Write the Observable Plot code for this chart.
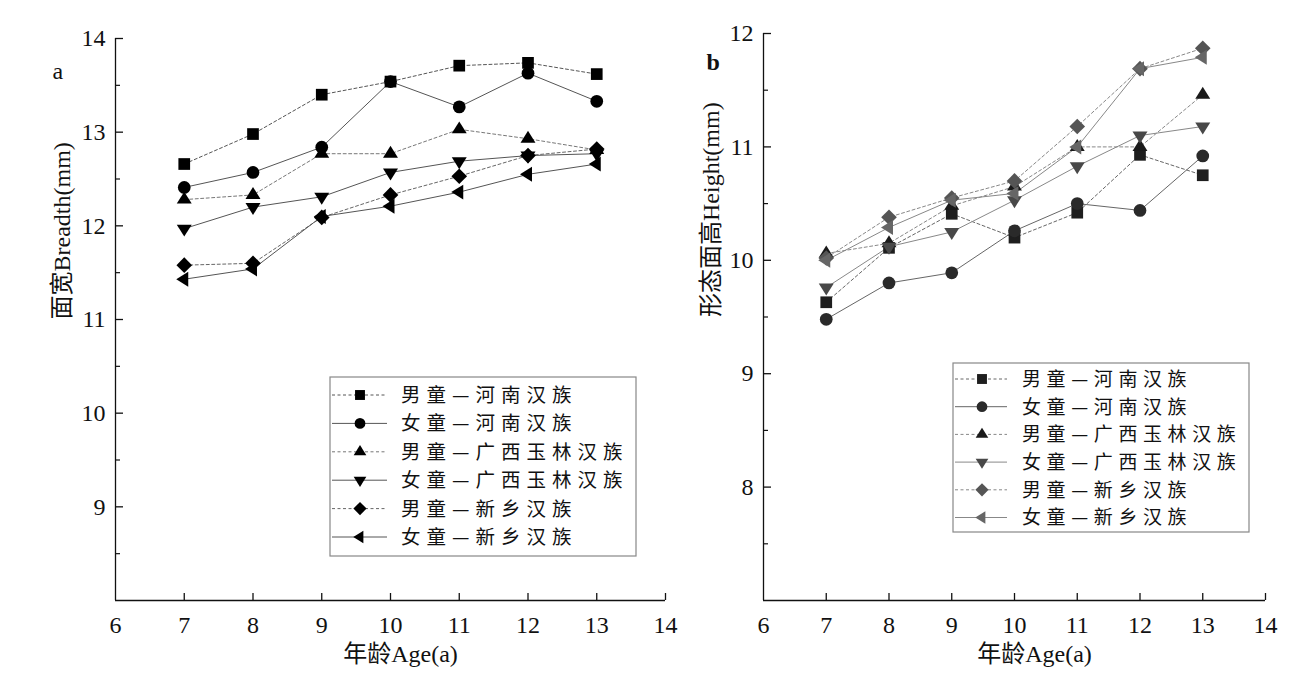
<!DOCTYPE html>
<html>
<head>
<meta charset="utf-8">
<script src="https://cdn.jsdelivr.net/npm/d3@7"></script>
<script src="https://cdn.jsdelivr.net/npm/@observablehq/plot@0.6"></script>
<style>
  html, body { margin: 0; padding: 0; background: #fff; }
  #wrap { position: relative; width: 1300px; height: 688px; overflow: hidden; }
  #wrap > svg, #wrap > div { position: absolute; top: 0; }
</style>
</head>
<body>
<div id="wrap"></div>
<script>
// ---------- data ----------
const ages = [7, 8, 9, 10, 11, 12, 13];
const seriesNames = ["男童—河南汉族", "女童—河南汉族", "男童—广西玉林汉族", "女童—广西玉林汉族", "男童—新乡汉族", "女童—新乡汉族"];
const xTicks = [6, 7, 8, 9, 10, 11, 12, 13, 14];

// panel a: 面宽 Breadth (mm)
const breadthBoyHenan     = [12.66, 12.98, 13.40, 13.54, 13.71, 13.74, 13.62];
const breadthGirlHenan    = [12.41, 12.57, 12.84, 13.54, 13.27, 13.63, 13.33];
const breadthBoyGuangxi   = [12.28, 12.33, 12.77, 12.77, 13.03, 12.93, 12.81];
const breadthGirlGuangxi  = [11.97, 12.20, 12.31, 12.57, 12.69, 12.75, 12.77];
const breadthBoyXinxiang  = [11.58, 11.60, 12.09, 12.33, 12.53, 12.75, 12.82];
const breadthGirlXinxiang = [11.43, 11.54, 12.10, 12.21, 12.36, 12.55, 12.66];
const breadthYTicks = [9, 10, 11, 12, 13, 14];

// panel b: 形态面高 Height (mm)
const heightBoyHenan     = [9.63, 10.11, 10.41, 10.20, 10.42, 10.93, 10.75];
const heightGirlHenan    = [9.48, 9.80, 9.89, 10.26, 10.50, 10.44, 10.92];
const heightBoyGuangxi   = [10.06, 10.15, 10.48, 10.65, 11.00, 11.00, 11.46];
const heightGirlGuangxi  = [9.76, 10.12, 10.25, 10.53, 10.83, 11.10, 11.18];
const heightBoyXinxiang  = [10.02, 10.38, 10.55, 10.70, 11.18, 11.69, 11.87];
const heightGirlXinxiang = [10.00, 10.29, 10.53, 10.59, 11.00, 11.69, 11.79];
const heightYTicks = [8, 9, 10, 11, 12];

// ---------- symbols ----------
function sym(kind) {
  return {
    draw(ctx, size) {
      const r = Math.sqrt(size / Math.PI);
      if (kind === "square") {
        const a = r * 0.9; ctx.rect(-a, -a, 2 * a, 2 * a);
      } else if (kind === "circle") {
        const c = r * 0.98; ctx.moveTo(c, 0); ctx.arc(0, 0, c, 0, 2 * Math.PI);
      } else if (kind === "diamond") {
        const d = r * 1.2; ctx.moveTo(0, -d); ctx.lineTo(d, 0); ctx.lineTo(0, d); ctx.lineTo(-d, 0); ctx.closePath();
      } else {
        const w = r * 1.15, h = w * 1.6;
        let pts = [[0, -h * 2 / 3], [w, h / 3], [-w, h / 3]];
        if (kind === "down") pts = pts.map(([x, y]) => [x, -y]);
        if (kind === "left") pts = pts.map(([x, y]) => [y, x]);
        ctx.moveTo(pts[0][0], pts[0][1]); ctx.lineTo(pts[1][0], pts[1][1]); ctx.lineTo(pts[2][0], pts[2][1]); ctx.closePath();
      }
    }
  };
}
const symbolKinds = ["square", "circle", "up", "down", "diamond", "left"];
const dashed = [true, false, true, false, true, false];

const FONT = '"Liberation Serif", "Noto Sans CJK SC", serif';
const wrap = document.getElementById("wrap");

function panel(cfg) {
  const {values, yDomain, yTicks, left, width, mL, mR, mT, mB, fills, lineColors, yTitle, yTitleDx, xTitleDx, letter, letterDx, letterDy, letterWeight} = cfg;
  const H = 688;
  const frameW = width - mL - mR, frameH = H - mT - mB;
  const minor = d3.range(yDomain[0] + 0.5, yDomain[1], 1);
  const marks = [];
  values.forEach((vals, i) => {
    const data = ages.map((a, j) => ({age: a, v: vals[j]}));
    marks.push(Plot.line(data, {x: "age", y: "v", stroke: lineColors[i], strokeWidth: 1,
      strokeDasharray: dashed[i] ? "3,2.5" : null}));
  });
  values.forEach((vals, i) => {
    const data = ages.map((a, j) => ({age: a, v: vals[j]}));
    marks.push(Plot.dot(data, {x: "age", y: "v", r: 6.5, symbol: sym(symbolKinds[i]), fill: fills[i], stroke: "none"}));
  });
  // axis lines
  marks.push(Plot.ruleX([xTicks[0]], {stroke: "#111", strokeWidth: 1.3}));
  marks.push(Plot.ruleY([yDomain[0]], {stroke: "#111", strokeWidth: 1.3}));
  // inward ticks
  marks.push(Plot.tickY(yTicks, {y: d => d, stroke: "#111", strokeWidth: 1.3, insetRight: frameW - 8}));
  marks.push(Plot.tickY(minor, {y: d => d, stroke: "#111", strokeWidth: 1.2, insetRight: frameW - 5}));
  marks.push(Plot.tickX(xTicks.slice(1), {x: d => d, stroke: "#111", strokeWidth: 1.3, insetTop: frameH - 7}));
  // labels
  marks.push(Plot.axisY(yTicks, {tickSize: 0, tickPadding: 10, fontSize: 24, label: null, fill: "#111", tickFormat: d => String(d)}));
  marks.push(Plot.axisX(xTicks, {tickSize: 0, tickPadding: 15, fontSize: 24, label: null, fill: "#111", tickFormat: d => String(d)}));
  marks.push(Plot.text([yTitle], {frameAnchor: "left", dx: yTitleDx, rotate: -90, fontSize: 24, fill: "#111"}));
  marks.push(Plot.text(["年龄Age(a)"], {frameAnchor: "bottom", dy: 61, dx: xTitleDx, fontSize: 24, fill: "#111"}));
  marks.push(Plot.text([letter], {frameAnchor: "top-left", dx: letterDx, dy: letterDy, fontSize: 24, fill: "#111", fontWeight: letterWeight, textAnchor: "start"}));

  const svg = Plot.plot({
    width, height: H,
    marginLeft: mL, marginRight: mR, marginTop: mT, marginBottom: mB,
    x: {domain: [xTicks[0], xTicks[xTicks.length - 1]]},
    y: {domain: yDomain},
    style: {fontFamily: FONT, fontSize: "24px", background: "transparent", overflow: "visible", color: "#111"},
    marks
  });
  svg.style.left = left + "px";
  wrap.appendChild(svg);
}

panel({
  values: [breadthBoyHenan, breadthGirlHenan, breadthBoyGuangxi, breadthGirlGuangxi, breadthBoyXinxiang, breadthGirlXinxiang],
  yDomain: [8, 14], yTicks: breadthYTicks,
  left: 0, width: 700, mL: 115, mR: 35, mT: 38, mB: 88,
  fills: ["#000", "#000", "#000", "#000", "#000", "#000"],
  lineColors: ["#555", "#555", "#777", "#555", "#666", "#555"],
  yTitle: "面宽Breadth(mm)", yTitleDx: -53, xTitleDx: 10,
  letter: "a", letterDx: -63, letterDy: 23, letterWeight: "normal"
});
panel({
  values: [heightBoyHenan, heightGirlHenan, heightBoyGuangxi, heightGirlGuangxi, heightBoyXinxiang, heightGirlXinxiang],
  yDomain: [7, 12], yTicks: heightYTicks,
  left: 700, width: 600, mL: 63, mR: 35, mT: 33, mB: 88,
  fills: ["#1e1e1e", "#2a2a2a", "#1a1a1a", "#484848", "#555", "#666"],
  lineColors: ["#666", "#666", "#888", "#888", "#888", "#888"],
  yTitle: "形态面高Height(mm)", yTitleDx: -52, xTitleDx: 20,
  letter: "b", letterDx: -57, letterDy: 19, letterWeight: "bold"
});

// ---------- legends ----------
function legend(cfg) {
  const {x, y, w, h, row0, rowStep, lineX0, lineX1, symX, textX, fontSize, spacing, fills, lineColors} = cfg;
  const svg = d3.create("svg").attr("width", 1300).attr("height", 688)
    .style("position", "absolute").style("left", "0px").style("top", "0px").style("overflow", "visible");
  svg.append("rect").attr("x", x).attr("y", y).attr("width", w).attr("height", h)
    .attr("fill", "#fff").attr("stroke", "#888").attr("stroke-width", 1.2);
  seriesNames.forEach((name, i) => {
    const cy = row0 + i * rowStep;
    svg.append("line").attr("x1", lineX0).attr("x2", lineX1).attr("y1", cy).attr("y2", cy)
      .attr("stroke", lineColors[i]).attr("stroke-width", 1).attr("stroke-dasharray", dashed[i] ? "3,2.5" : null);
    const p = d3.path();
    sym(symbolKinds[i]).draw(p, Math.PI * 5.5 * 5.5);
    svg.append("path").attr("d", p.toString()).attr("transform", `translate(${symX},${cy})`).attr("fill", fills[i]);
    svg.append("text").attr("x", textX).attr("y", cy).attr("dy", "0.36em")
      .attr("font-family", '"Noto Sans CJK SC", sans-serif').attr("font-size", fontSize)
      .attr("letter-spacing", spacing).attr("fill", "#111").text(name);
  });
  wrap.appendChild(svg.node());
}
legend({x: 330, y: 377, w: 306, h: 179, row0: 395, rowStep: 28.4, lineX0: 332, lineX1: 387, symX: 360, textX: 401,
  fontSize: 19.5, spacing: 6, fills: ["#000", "#000", "#000", "#000", "#000", "#000"],
  lineColors: ["#555", "#555", "#777", "#555", "#666", "#555"]});
legend({x: 953, y: 363, w: 296, h: 169, row0: 379, rowStep: 27.7, lineX0: 955, lineX1: 1007, symX: 982, textX: 1022,
  fontSize: 19, spacing: 5.6, fills: ["#1e1e1e", "#2a2a2a", "#1a1a1a", "#484848", "#555", "#666"],
  lineColors: ["#666", "#666", "#888", "#888", "#888", "#888"]});
</script>
</body>
</html>
